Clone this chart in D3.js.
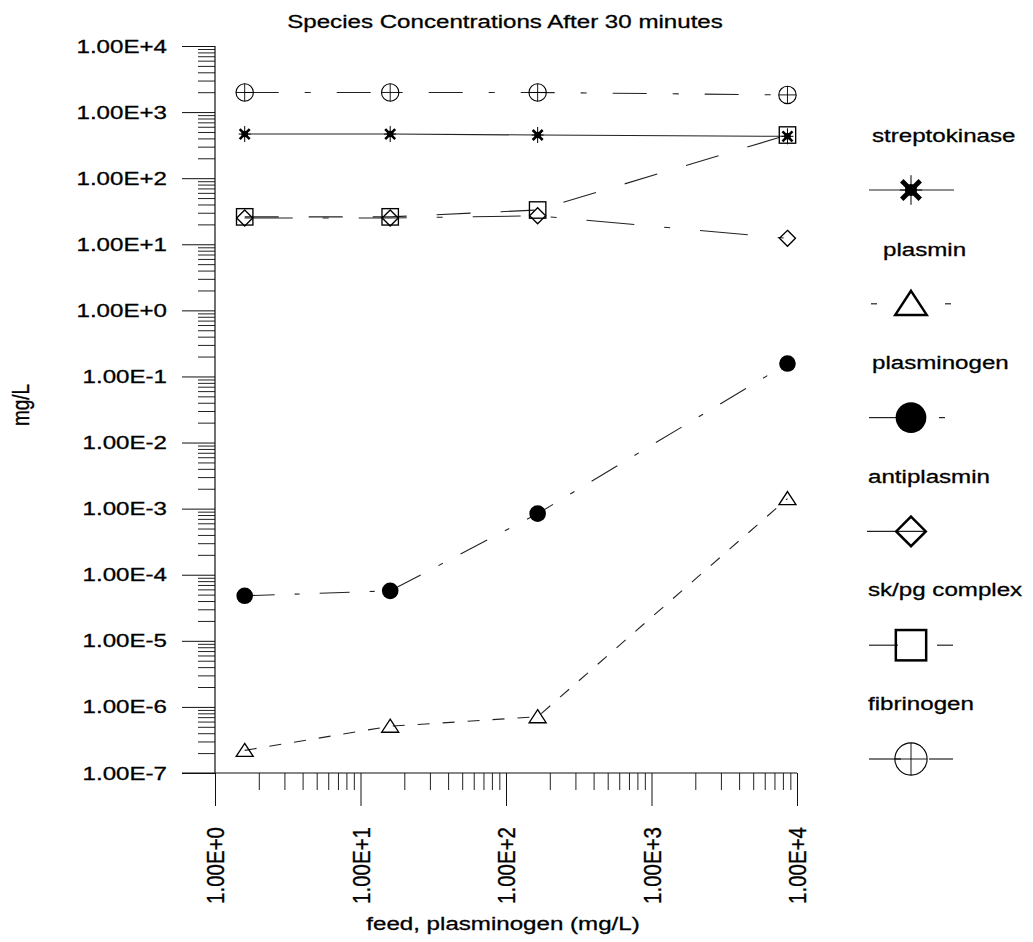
<!DOCTYPE html>
<html>
<head>
<meta charset="utf-8">
<script src="https://cdn.jsdelivr.net/npm/d3@7"></script>
<style>
  body { margin: 0; background: #fff; }
</style>
</head>
<body>
<svg width="1033" height="942"></svg>
<script>
// data
var feed = [1.6, 16, 165, 8600];
var streptokinase = [465, 465, 450, 430];
var plasmin = [2.2e-7, 5.1e-7, 7.1e-7, 1.42e-3];
var plasminogen = [4.8e-5, 5.7e-5, 8.4e-4, 0.157];
var antiplasmin = [25, 25, 27, 12.3];
var skpgComplex = [26, 26, 33, 450];
var fibrinogen = [1980, 1980, 1980, 1820];

var seriesNames = ['streptokinase', 'plasmin', 'plasminogen', 'antiplasmin', 'sk/pg complex', 'fibrinogen'];
var seriesValues = [streptokinase, plasmin, plasminogen, antiplasmin, skpgComplex, fibrinogen];

// look of each series (plot line dash, marker, legend line pieces)
var styles = [
  { marker: 'star',     dash: null,          legX: 872, legSeg: [[-42, 43]] },
  { marker: 'triangle', dash: '12,13',       legX: 883, legSeg: [[-40, -34], [34, 40]] },
  { marker: 'dot',      dash: '30,20,5,20',  legX: 872, legSeg: [[-42, -14], [28, 34]] },
  { marker: 'diamond',  dash: '48,30,6,30',  legX: 868, legSeg: [[-44, 14]] },
  { marker: 'square',   dash: '34,30',       legX: 868, legSeg: [[-42, -13], [26, 42]] },
  { marker: 'fib',      dash: '34,26,6,26',  legX: 868, legSeg: [[-42, -10], [18, 42]] }
];

var svg = d3.select('svg');
var font = '"Liberation Sans", Arial, sans-serif';
var fontSize = 19;
var sx = 1.27; // the scanned text is wider than it is tall

var x = d3.scaleLog().domain([1, 1e4]).range([215, 797]);
var y = d3.scaleLog().domain([1e-7, 1e4]).range([773, 46]);

var fmt = function (d) {
  var e = Math.round(Math.log10(d));
  return '1.00E' + (e >= 0 ? '+' : '') + e;
};
var isPow = function (d) { return Math.abs(Math.log10(d) - Math.round(Math.log10(d))) < 1e-6; };

var yAll = y.ticks(20);
var yMajor = yAll.filter(isPow);
var yMinor = yAll.filter(function (d) { return !isPow(d); });
var xAll = x.ticks(20);
var xMajor = xAll.filter(isPow);
var xMinor = xAll.filter(function (d) { return !isPow(d); });

function inkText(sel, size) {
  return sel
    .attr('font-family', font)
    .attr('font-size', size || fontSize)
    .attr('fill', '#000')
    .attr('stroke', '#000')
    .attr('stroke-width', 0.3);
}

function wideText(g, str, tx, ty, anchor, rot) {
  return inkText(g.append('text')
    .attr('transform', 'translate(' + tx + ',' + ty + ') scale(' + sx + ',1)' + (rot ? ' rotate(' + rot + ')' : ''))
    .attr('text-anchor', anchor)
    .text(str));
}

// title
wideText(svg, 'Species Concentrations After 30 minutes', 505, 28, 'middle');

// y axis
svg.append('g')
  .attr('transform', 'translate(215,0)')
  .style('color', '#222')
  .call(d3.axisLeft(y).tickValues(yMinor).tickSize(17).tickFormat(''))
  .call(function (g) { g.select('.domain').remove(); });

var yAxisG = svg.append('g')
  .attr('transform', 'translate(215,0)')
  .style('color', '#111')
  .call(d3.axisLeft(y).tickValues(yMajor).tickSize(33).tickPadding(15).tickFormat(fmt))
  .call(function (g) { g.select('.domain').remove(); });
inkText(yAxisG.selectAll('text')
  .attr('x', -48 / sx)
  .attr('transform', 'scale(' + sx + ',1)'));

// x axis
svg.append('g')
  .attr('transform', 'translate(0,773)')
  .style('color', '#222')
  .call(d3.axisBottom(x).tickValues(xMinor).tickSize(17).tickFormat(''))
  .call(function (g) { g.select('.domain').remove(); });

var xAxisG = svg.append('g')
  .attr('transform', 'translate(0,773)')
  .style('color', '#111')
  .call(d3.axisBottom(x).tickValues(xMajor).tickSize(33).tickFormat(fmt))
  .call(function (g) { g.select('.domain').remove(); });
inkText(xAxisG.selectAll('text')
  .attr('x', -54)
  .attr('y', 0)
  .attr('dy', '0.35em')
  .attr('text-anchor', 'end')
  .attr('transform', 'scale(1.2,1) rotate(-90)'), 20.5);

// axis lines
svg.append('line')
  .attr('x1', 215).attr('x2', 215)
  .attr('y1', y(1e4)).attr('y2', y(1e-7))
  .attr('stroke', '#111').attr('stroke-width', 1.2);
svg.append('line')
  .attr('x1', 182).attr('x2', x(1e4))
  .attr('y1', y(1e-7)).attr('y2', y(1e-7))
  .attr('stroke', '#111').attr('stroke-width', 1.2);

// axis titles
wideText(svg, 'feed, plasminogen (mg/L)', 503, 930, 'middle');
wideText(svg, 'mg/L', 29, 405, 'middle', -90);

// markers
function marker(g, type, cx, cy, s) {
  var m = g.append('g').attr('transform', 'translate(' + cx + ',' + cy + ')');
  var sw = 1.35 * s;
  if (type === 'star') {
    m.append('path')
      .attr('d', 'M' + (-5 * s) + ',' + (-5 * s) + 'L' + (5 * s) + ',' + (5 * s) +
                 'M' + (5 * s) + ',' + (-5 * s) + 'L' + (-5 * s) + ',' + (5 * s))
      .attr('stroke', '#000').attr('stroke-width', 2.6 * s);
    m.append('path')
      .attr('d', 'M0,' + (-8 * s) + 'V' + (8 * s) + 'M' + (-6 * s) + ',0H' + (6 * s))
      .attr('stroke', '#000').attr('stroke-width', 1);
    m.append('circle').attr('r', 3.3 * s).attr('fill', '#000');
  } else if (type === 'triangle') {
    m.append('path')
      .attr('d', 'M0,' + (-7 * s) + 'L' + (8.5 * s) + ',' + (6 * s) + 'L' + (-8.5 * s) + ',' + (6 * s) + 'Z')
      .attr('fill', 'none').attr('stroke', '#000').attr('stroke-width', sw);
  } else if (type === 'dot') {
    m.append('circle').attr('r', 8.3 * s).attr('fill', '#000');
  } else if (type === 'diamond') {
    m.append('path')
      .attr('d', 'M0,' + (-8 * s) + 'L' + (8 * s) + ',0L0,' + (8 * s) + 'L' + (-8 * s) + ',0Z')
      .attr('fill', 'none').attr('stroke', '#000').attr('stroke-width', sw);
  } else if (type === 'square') {
    m.append('rect')
      .attr('x', -8.2 * s).attr('y', -8.2 * s)
      .attr('width', 16.4 * s).attr('height', 16.4 * s)
      .attr('fill', 'none').attr('stroke', '#000').attr('stroke-width', sw);
  } else if (type === 'fib') {
    var r = 8.7 * s;
    m.append('circle').attr('r', r)
      .attr('fill', 'none').attr('stroke', '#000').attr('stroke-width', 1.1);
    m.append('path')
      .attr('d', 'M0,' + (-r) + 'V' + r + 'M' + (-r) + ',0H' + r)
      .attr('stroke', '#000').attr('stroke-width', 0.9);
  }
}

// series lines
var line = d3.line()
  .x(function (d, i) { return x(feed[i]); })
  .y(function (d) { return y(d); });

var plot = svg.append('g');
seriesValues.forEach(function (vals, k) {
  plot.append('path')
    .datum(vals)
    .attr('d', line)
    .attr('fill', 'none')
    .attr('stroke', '#222')
    .attr('stroke-width', 1.1)
    .attr('stroke-dasharray', styles[k].dash);
});
seriesValues.forEach(function (vals, k) {
  vals.forEach(function (v, i) {
    marker(plot, styles[k].marker, x(feed[i]), y(v), 1);
  });
});

// legend
var legend = svg.append('g');
seriesNames.forEach(function (name, i) {
  var st = styles[i];
  var ly = 190 + i * 113.8;
  wideText(legend, name, st.legX, 142 + i * 113.6, 'start');
  st.legSeg.forEach(function (sg) {
    legend.append('line')
      .attr('x1', 911 + sg[0]).attr('x2', 911 + sg[1])
      .attr('y1', ly).attr('y2', ly)
      .attr('stroke', '#222').attr('stroke-width', 1.2);
  });
  marker(legend, st.marker, 911, ly, 1.85);
});
</script>
</body>
</html>
